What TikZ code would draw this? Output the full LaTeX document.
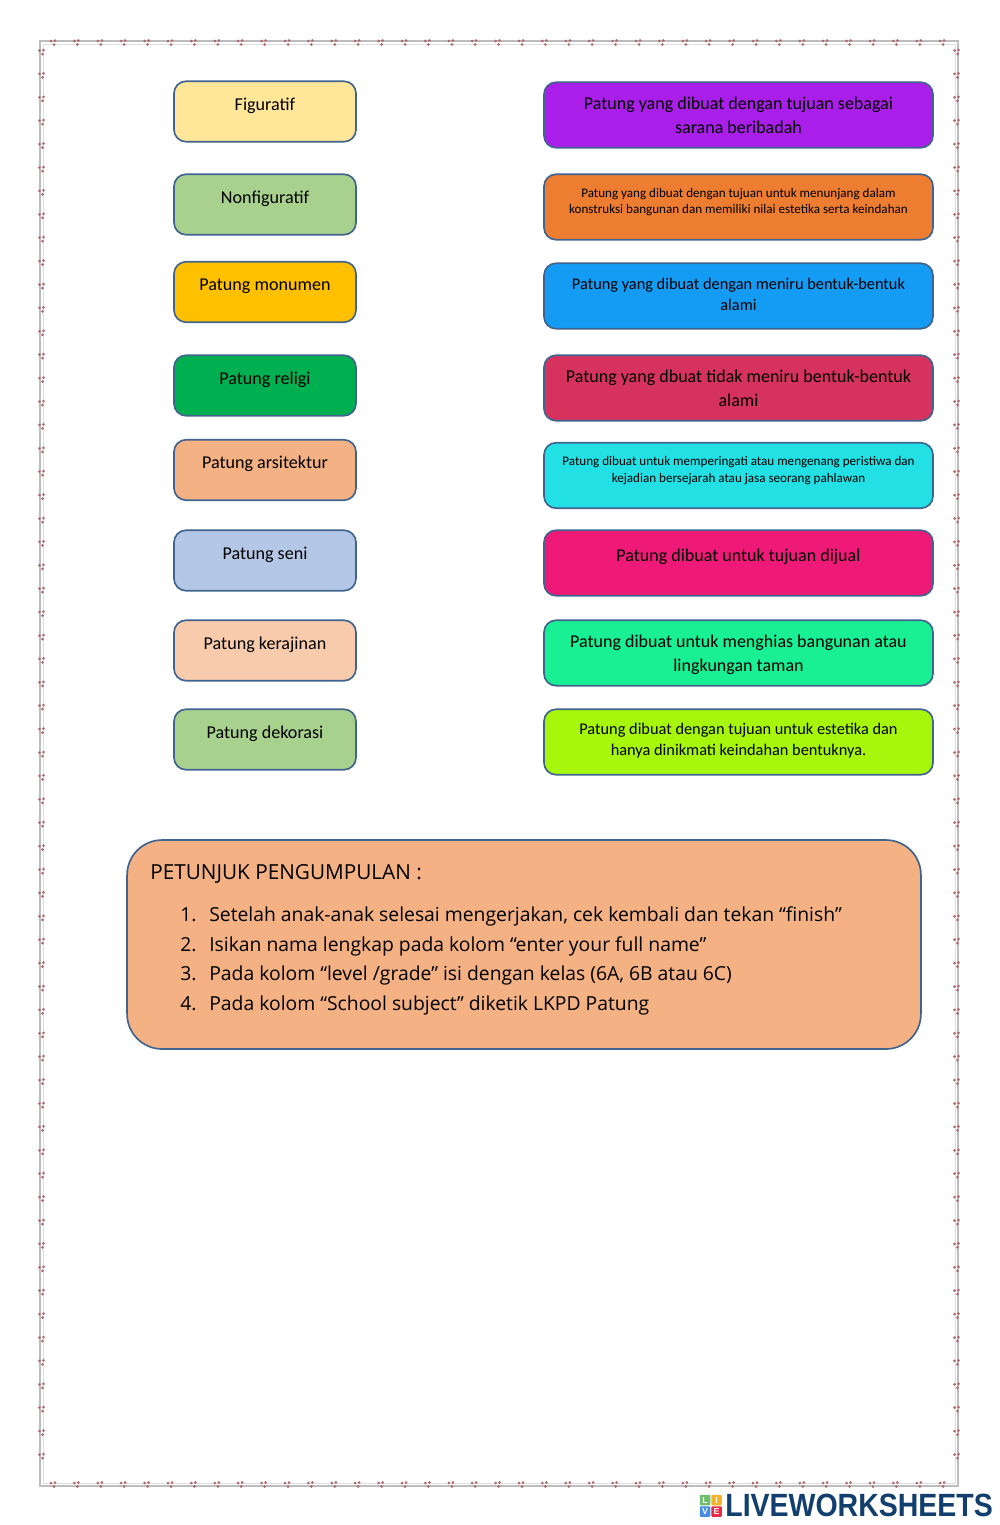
\documentclass[tikz,border=0pt]{standalone}
\usepackage{fontspec}
\setmainfont{Carlito}
\newfontfamily\petfont{Open Sans}
\newfontfamily\logofont{Liberation Sans}
\usetikzlibrary{positioning}
\definecolor{garis}{HTML}{41648F}
\definecolor{bordera}{HTML}{BDBDBD}
\definecolor{bordermerah}{HTML}{B0686E}
\definecolor{logobiru}{HTML}{123F6D}

\begin{document}
\begin{tikzpicture}[x=0.02cm,y=-0.02cm,font=\fontsize{10.3}{11.5}\selectfont,
  blk/.style={draw=garis,line width=0.95pt,rounded corners=0.24cm,align=center,inner sep=0pt},
  kiri/.style={blk,minimum width=3.64cm,minimum height=1.21cm,text height=0.3cm,text depth=0.36cm},
  kanan/.style={blk,minimum width=7.78cm,minimum height=1.31cm},
  besar/.style={font=\fontsize{10.25}{13.6}\selectfont},
  sedang/.style={font=\fontsize{9.3}{11.8}\selectfont},
  kecil/.style={font=\fontsize{7.45}{9.2}\selectfont},
  baris/.style={anchor=base west,inner sep=0pt,font=\petfont\fontsize{11}{12}\selectfont},
  logokotak/.style={rounded corners=0.5pt,minimum size=0.21cm,inner sep=0pt,text=white,font=\logofont\bfseries\fontsize{5}{5}\selectfont},
  hias/.pic={\fill[bordermerah](-2,-1.5)circle(0.03cm)(2,-2)circle(0.03cm)(1,2)circle(0.03cm);}]
  \useasboundingbox (0,0) rectangle (1000,1525);
  % bingkai
  \draw[bordera,line width=0.7pt](40,41)rectangle(958,1486);
  \draw[bordera!50,line width=0.4pt](43,44)rectangle(955,1483);
  \foreach \x in {0,...,38}{\pic at (53+23.4*\x,42.5){hias};\pic at (53+23.4*\x,1484.5){hias};}
  \foreach \y in {0,...,60}{\pic at (41.5,52+23.4*\y){hias};\pic at (956.5,52+23.4*\y){hias};}
  % kolom kiri
  \node[kiri,fill={rgb,255:red,255;green,230;blue,153}](figuratif) at (265,111.5){Figuratif};
  \node[kiri,fill={rgb,255:red,169;green,209;blue,142}](nonfiguratif) at (265,204.5){Nonfiguratif};
  \node[kiri,fill={rgb,255:red,255;green,192;blue,0}](monumen) at (265,292){Patung monumen};
  \node[kiri,fill={rgb,255:red,0;green,176;blue,80}](religi) at (265,385.5){Patung religi};
  \node[kiri,fill={rgb,255:red,244;green,177;blue,131}](arsitektur) at (265,470){Patung arsitektur};
  \node[kiri,fill={rgb,255:red,180;green,199;blue,231}](seni) at (265,560.5){Patung seni};
  \node[kiri,fill={rgb,255:red,248;green,203;blue,173}](kerajinan) at (265,650.5){Patung kerajinan};
  \node[kiri,fill={rgb,255:red,169;green,209;blue,142}](dekorasi) at (265,739.5){Patung dekorasi};
  % kolom kanan
  \node[kanan,besar,fill={rgb,255:red,169;green,30;blue,232}](ibadah) at (738.5,115){Patung yang dibuat dengan tujuan sebagai\\sarana beribadah};
  \node[kanan,kecil,fill={rgb,255:red,237;green,125;blue,49},text depth=0.24cm](konstruksi) at (738.5,207){Patung yang dibuat dengan tujuan untuk menunjang dalam\\konstruksi bangunan dan memiliki nilai estetika serta keindahan};
  \node[kanan,sedang,fill={rgb,255:red,20;green,156;blue,245},text depth=0.07cm](alami) at (738.5,296){Patung yang dibuat dengan meniru bentuk-bentuk\\alami};
  \node[kanan,besar,fill={rgb,255:red,214;green,50;blue,94}](nonalami) at (738.5,388){Patung yang dbuat tidak meniru bentuk-bentuk\\alami};
  \node[kanan,kecil,fill={rgb,255:red,34;green,224;blue,228},text depth=0.24cm](peristiwa) at (738.5,475.5){Patung dibuat untuk memperingati atau mengenang peristiwa dan\\kejadian bersejarah atau jasa seorang pahlawan};
  \node[kanan,besar,fill={rgb,255:red,239;green,26;blue,120},text depth=0.3cm](dijual) at (738.5,563){Patung dibuat untuk tujuan dijual};
  \node[kanan,besar,fill={rgb,255:red,25;green,239;blue,147},text depth=0cm](taman) at (738.5,653){Patung dibuat untuk menghias bangunan atau\\lingkungan taman};
  \node[kanan,sedang,fill={rgb,255:red,166;green,247;blue,12},text depth=0.1cm](estetika) at (738.5,742){Patung dibuat dengan tujuan untuk estetika dan\\hanya dinikmati keindahan bentuknya.};
  % petunjuk
  \node[blk,rounded corners=0.7cm,minimum width=15.88cm,minimum height=4.18cm,fill={rgb,255:red,244;green,177;blue,131}](petunjuk) at (524,944.5){};
  \node[baris,font=\petfont\fontsize{11.8}{12}\selectfont](judul) at (150,879){PETUNJUK PENGUMPULAN :};
  \node[baris](satu) at (180,921){\makebox[0.58cm][l]{1.}Setelah anak-anak selesai mengerjakan, cek kembali dan tekan “finish”};
  \node[baris](dua) at (180,951){\makebox[0.58cm][l]{2.}Isikan nama lengkap pada kolom “enter your full name”};
  \node[baris](tiga) at (180,980){\makebox[0.58cm][l]{3.}Pada kolom “level /grade” isi dengan kelas (6A, 6B atau 6C)};
  \node[baris](empat) at (180,1010){\makebox[0.58cm][l]{4.}Pada kolom “School subject” diketik LKPD Patung};
  % logo
  \node[logokotak,fill={rgb,255:red,110;green,190;blue,110}](logol) at (705,1500){L};
  \node[logokotak,fill={rgb,255:red,245;green,180;blue,40}](logoi) at (716.5,1500){I};
  \node[logokotak,fill={rgb,255:red,70;green,140;blue,230}](logov) at (705,1511.5){V};
  \node[logokotak,fill={rgb,255:red,235;green,40;blue,70}](logoe) at (716.5,1511.5){E};
  \node[anchor=base west,inner sep=0pt,text=logobiru,font=\logofont\bfseries\fontsize{18.3}{20}\selectfont](logo) at (725,1516.5){\scalebox{0.886}[1]{LIVEWORKSHEETS}};
\end{tikzpicture}
\end{document}
